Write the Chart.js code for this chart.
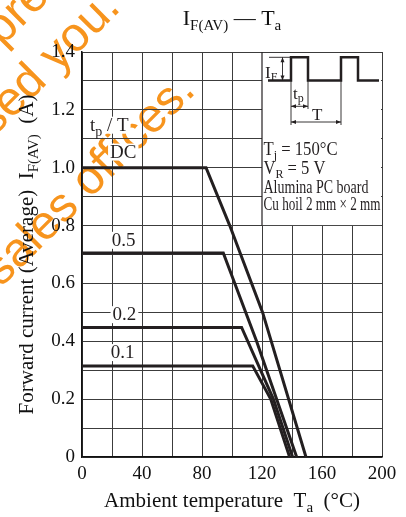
<!DOCTYPE html>
<html lang="en">
<head>
<meta charset="UTF-8" />
<title>IF(AV) — Ta</title>
<script src="https://cdn.jsdelivr.net/npm/chart.js"></script>
<style>
  html, body { margin: 0; padding: 0; background: #fff; }
  #wrap { width: 406px; height: 517px; }
</style>
</head>
<body>
<div id="wrap"><canvas id="derating" width="406" height="517"></canvas></div>
<script>
// duty ratio tp/T of each curve
const seriesNames = ['DC', '0.5', '0.2', '0.1'];

// ambient temperature (°C) / forward current (A)
const dcTemp = [0, 82.7, 98.5, 120.4, 149.3];
const dcCurrent = [1.0, 1.0, 0.8, 0.5, 0];
const halfTemp = [0, 94.2, 116.4, 143.1];
const halfCurrent = [0.705, 0.705, 0.4, 0];
const fifthTemp = [0, 106.4, 127.6, 140.4];
const fifthCurrent = [0.448, 0.448, 0.2, 0];
const tenthTemp = [0, 113.8, 125.8, 138.4];
const tenthCurrent = [0.315, 0.315, 0.2, 0];

const xTickLabels = ['0', '', '40', '', '80', '', '120', '', '160', '', '200'];
const yTickLabels = ['0', '', '0.2', '', '0.4', '', '0.6', '', '0.8', '', '1.0', '', '1.2', '', '1.4'];

const insetLines = ['T|j| = 150°C', 'V|R| = 5 V', 'Alumina PC board', 'Cu hoil 2 mm × 2 mm'];

const temps = [dcTemp, halfTemp, fifthTemp, tenthTemp];
const currents = [dcCurrent, halfCurrent, fifthCurrent, tenthCurrent];

const SERIF = '"Liberation Serif", "Times New Roman", serif';
const INK = '#231f20';
function font(px) { return px + 'px ' + SERIF; }

// parts: [{t, f, dy}] -> text runs with subscripts
function richWidth(ctx, parts) {
  let w = 0;
  parts.forEach(p => { ctx.font = font(p.f); w += ctx.measureText(p.t).width; });
  return w;
}
function drawRich(ctx, parts, x, y, align, fitWidth) {
  const w = richWidth(ctx, parts);
  const sx = fitWidth ? fitWidth / w : 1;
  const start = align === 'center' ? x - w * sx / 2 : align === 'right' ? x - w * sx : x;
  ctx.save();
  ctx.translate(start, y);
  ctx.scale(sx, 1);
  ctx.textAlign = 'left';
  ctx.textBaseline = 'alphabetic';
  let cx = 0;
  parts.forEach(p => {
    ctx.font = font(p.f);
    ctx.fillText(p.t, cx, p.dy || 0);
    cx += ctx.measureText(p.t).width;
  });
  ctx.restore();
  return w * sx;
}
// "T|j| = 150" -> main / sub / main
function parseSub(str, main, sub, drop) {
  return str.split('|').map((t, i) => i % 2 ? { t: t, f: sub, dy: drop } : { t: t, f: main });
}

function arrowHead(ctx, x, y, dx, dy) {
  ctx.beginPath();
  ctx.moveTo(x, y);
  ctx.lineTo(x - dx * 5 - dy * 2, y - dy * 5 - dx * 2);
  ctx.lineTo(x - dx * 5 + dy * 2, y - dy * 5 + dx * 2);
  ctx.closePath();
  ctx.fill();
}
function dimLine(ctx, x1, y1, x2, y2) {
  ctx.beginPath(); ctx.moveTo(x1, y1); ctx.lineTo(x2, y2); ctx.stroke();
  const len = Math.hypot(x2 - x1, y2 - y1), ux = (x2 - x1) / len, uy = (y2 - y1) / len;
  arrowHead(ctx, x2, y2, ux, uy);
  arrowHead(ctx, x1, y1, -ux, -uy);
}

const decor = {
  id: 'decor',
  beforeDraw(chart) {
    // orange watermark, underneath everything else
    const ctx = chart.ctx;
    ctx.save();
    ctx.fillStyle = '#f7941d';
    ctx.font = '48px "Liberation Sans", Arial, sans-serif';
    const marks = [['pre', 2, 47, 'left'], ['sed you.', 122, 9, 'right'], ['sales offices.', 197, 92, 'right']];
    marks.forEach(([t, mx, my, al]) => {
      ctx.save();
      ctx.translate(mx, my);
      ctx.rotate(-Math.PI / 4);
      ctx.textAlign = al;
      ctx.fillText(t, 0, 0);
      ctx.restore();
    });
    ctx.restore();
  },
  beforeDatasetsDraw(chart) {
    const { ctx, scales: { x, y } } = chart;
    // inset box over the upper right grid
    const L = x.getPixelForValue(120), R = x.getPixelForValue(200);
    const T = y.getPixelForValue(1.4), B = y.getPixelForValue(0.8);
    ctx.save();
    ctx.fillStyle = '#fff';
    ctx.fillRect(L, T + 1, R - L - 1, B - T - 1.5);
    ctx.strokeStyle = INK;
    ctx.lineWidth = 1.2;
    ctx.beginPath(); ctx.moveTo(L, T); ctx.lineTo(L, B); ctx.stroke();

    // pulse train
    const base = T + 28.6, high = T + 5.3;
    const xs = [6, 29, 46, 79, 96, 117].map(d => L + d);
    ctx.lineWidth = 2.5;
    ctx.beginPath();
    ctx.moveTo(xs[0], base);
    ctx.lineTo(xs[1], base); ctx.lineTo(xs[1], high); ctx.lineTo(xs[2], high); ctx.lineTo(xs[2], base);
    ctx.lineTo(xs[3], base); ctx.lineTo(xs[3], high); ctx.lineTo(xs[4], high); ctx.lineTo(xs[4], base);
    ctx.lineTo(xs[5], base);
    ctx.stroke();

    ctx.lineWidth = 0.9;
    ctx.fillStyle = INK;
    // IF dimension
    ctx.beginPath(); ctx.moveTo(L + 7, high); ctx.lineTo(xs[1], high); ctx.stroke();
    dimLine(ctx, L + 20.5, high, L + 20.5, base);
    // extension lines
    ctx.beginPath();
    ctx.moveTo(xs[1], base); ctx.lineTo(xs[1], T + 73);
    ctx.moveTo(xs[2], base); ctx.lineTo(xs[2], T + 57);
    ctx.moveTo(xs[3], base); ctx.lineTo(xs[3], T + 73);
    ctx.stroke();
    dimLine(ctx, xs[1], T + 54.3, xs[2], T + 54.3);
    dimLine(ctx, xs[1], T + 70, xs[3], T + 70);

    drawRich(ctx, [{ t: 'I', f: 17 }, { t: 'F', f: 12, dy: 3 }], L + 3, T + 25.5, 'left');
    drawRich(ctx, [{ t: 't', f: 17 }, { t: 'p', f: 12, dy: 3 }], L + 31, T + 46.5, 'left');
    drawRich(ctx, [{ t: 'T', f: 17 }], L + 50, T + 67.5, 'left');

    const widths = [74, 62, 105, 117];
    const baselines = [102.6, 121.6, 140.6, 157.6];
    insetLines.forEach((s, i) => {
      drawRich(ctx, parseSub(s, 18, 13, 4), L + 1.5, T + baselines[i], 'left', widths[i]);
    });
    ctx.restore();
  },
  afterDatasetsDraw(chart) {
    const { ctx, scales: { x, y } } = chart;
    ctx.save();
    // curve labels on white patches
    const labelAt = [[27.5, 1.035], [27.7, 0.73], [28.3, 0.473], [27, 0.342]];
    seriesNames.forEach((name, i) => {
      const px = x.getPixelForValue(labelAt[i][0]), py = y.getPixelForValue(labelAt[i][1]);
      ctx.font = font(19);
      const w = ctx.measureText(name).width;
      ctx.fillStyle = '#fff';
      ctx.fillRect(px - w / 2 - 2, py - 14, w + 4, 17);
      ctx.fillStyle = INK;
      ctx.textAlign = 'center';
      ctx.fillText(name, px, py);
    });
    const hx = x.getPixelForValue(5.3), hy = y.getPixelForValue(1.128);
    const head = [{ t: 't', f: 19 }, { t: 'p', f: 14, dy: 5 }, { t: ' / T', f: 19 }];
    ctx.fillStyle = '#fff';
    ctx.fillRect(hx - 2, hy - 14, richWidth(ctx, head) + 4, 17);
    ctx.fillStyle = INK;
    drawRich(ctx, head, hx, hy, 'left');
    ctx.restore();
  },
  afterDraw(chart) {
    const { ctx, chartArea: a } = chart;
    ctx.save();
    ctx.fillStyle = '#111';
    const cx = (a.left + a.right) / 2;
    drawRich(ctx, [{ t: 'I', f: 22 }, { t: 'F(AV)', f: 15, dy: 5 }, { t: ' — ', f: 22 }, { t: 'T', f: 22 }, { t: 'a', f: 15, dy: 5 }], cx, 25, 'center');
    drawRich(ctx, [{ t: 'Ambient temperature  T', f: 21 }, { t: 'a', f: 15, dy: 5 }, { t: '  (°C)', f: 21 }], cx, 507, 'center');
    ctx.translate(33, (a.top + a.bottom) / 2);
    ctx.rotate(-Math.PI / 2);
    drawRich(ctx, [{ t: 'Forward current (Average)  I', f: 21 }, { t: 'F(AV)', f: 15, dy: 5 }, { t: '  (A)', f: 21 }], 0, 0, 'center');
    ctx.restore();
  }
};

new Chart(document.getElementById('derating'), {
  type: 'line',
  data: {
    datasets: seriesNames.map((name, i) => ({
      label: name,
      data: temps[i].map((t, j) => ({ x: t, y: currents[i][j] })),
      borderColor: INK,
      borderWidth: 3,
      pointRadius: 0,
      fill: false,
      tension: 0
    }))
  },
  options: {
    responsive: false,
    animation: false,
    layout: { padding: { left: 0, right: 24, top: 52, bottom: 0 } },
    plugins: { legend: { display: false }, tooltip: { enabled: false } },
    scales: {
      x: {
        type: 'linear', min: 0, max: 200,
        ticks: { stepSize: 20, autoSkip: false, maxRotation: 0, padding: 6, color: '#111',
                 font: { family: SERIF, size: 19 }, callback: (v, i) => xTickLabels[i] },
        grid: { color: '#3c3c3c', lineWidth: 1, drawTicks: false },
        border: { color: '#111', width: 1.5 },
        afterFit: s => { s.height = 60; }
      },
      y: {
        min: 0, max: 1.4,
        ticks: { stepSize: 0.1, autoSkip: false, padding: 7, color: '#111',
                 font: { family: SERIF, size: 19 }, callback: (v, i) => yTickLabels[i] },
        grid: { color: '#3c3c3c', lineWidth: 1, drawTicks: false },
        border: { color: '#111', width: 1.5 },
        afterFit: s => { s.width = 82; }
      }
    }
  },
  plugins: [decor]
});
</script>
</body>
</html>
